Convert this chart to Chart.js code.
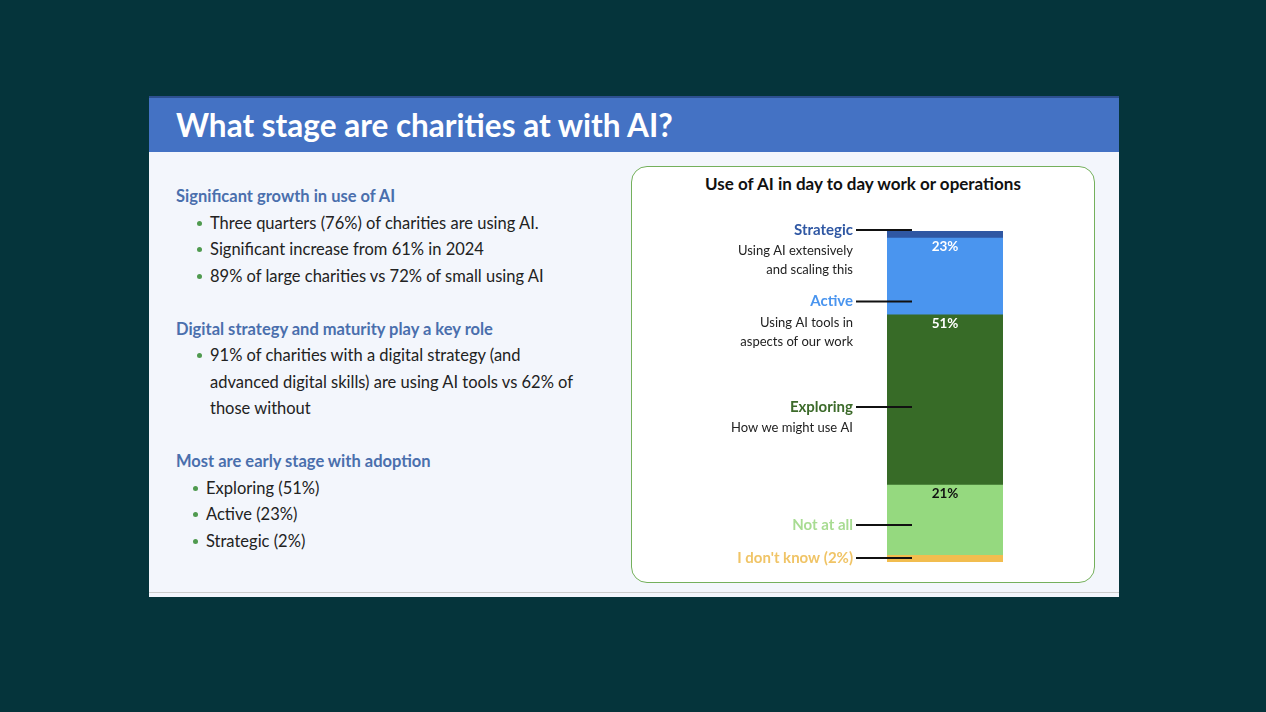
<!DOCTYPE html>
<html><head><meta charset="utf-8">
<script src="https://cdn.jsdelivr.net/npm/chart.js@4/dist/chart.umd.min.js"></script>
<style>
body{margin:0;width:1266px;height:712px;background:#05343b;font-family:Lato,"Noto Sans",sans-serif;position:relative;overflow:hidden}
#slide{position:absolute;left:149px;top:96px;width:970px;height:501px;background:#f3f6fc}
#hdr{position:absolute;left:0;top:0;width:970px;height:56px;background:#4472c4;border-top:2px solid #2d4f8f;box-sizing:border-box}
#hdr h1{margin:0;position:absolute;left:27px;top:8px;color:#fff;font-size:31.5px;font-weight:bold}
#left{position:absolute;left:27px;top:87px;color:#222;font-size:16.5px}
.h{color:#4a6fad;font-weight:bold;font-size:16.5px;margin:0;line-height:26.5px}
ul{margin:0;padding-left:34px;list-style:none}
li{line-height:26.5px;position:relative}
li:before{content:"";position:absolute;left:-13px;top:11px;width:5px;height:5px;border-radius:50%;background:#4f9a4f}
#box{position:absolute;left:631px;top:166px;width:464px;height:417px;background:#fff;border:1.5px solid #74b05c;border-radius:16px;box-sizing:border-box}
#ttl{position:absolute;left:631px;top:173px;width:464px;text-align:center;font-weight:bold;font-size:17px;color:#111}
canvas{position:absolute;left:631px;top:166px}
#foot{position:absolute;left:149px;top:592px;width:970px;height:1px;background:#ccc}
</style></head><body>
<div id="slide"><div id="hdr"><h1>What stage are charities at with AI?</h1></div>
<div id="left">
<p class="h">Significant growth in use of AI</p>
<ul><li>Three quarters (76%) of charities are using AI.</li><li>Significant increase from 61% in 2024</li><li>89% of large charities vs 72% of small using AI</li></ul>
<p class="h" style="margin-top:26.5px">Digital strategy and maturity play a key role</p>
<ul><li>91% of charities with a digital strategy (and<br>advanced digital skills) are using AI tools vs 62% of<br>those without</li></ul>
<p class="h" style="margin-top:26.5px">Most are early stage with adoption</p>
<ul style="padding-left:30px"><li>Exploring (51%)</li><li>Active (23%)</li><li>Strategic (2%)</li></ul>
</div></div>
<div id="foot"></div>
<div id="box"></div>
<div id="ttl">Use of AI in day to day work or operations</div>
<canvas id="c" width="464" height="417"></canvas>
<script>
const categories=["I don't know (2%)","Not at all","Exploring","Active","Strategic"];
const values=[2,21,51,23,2];
const valueLabels=["","21%","51%","23%",""];
const subLabels=[[],[],["How we might use AI"],["Using AI tools in","aspects of our work"],["Using AI extensively","and scaling this"]];
const labelAnchors=[1.2,11.1,46.4,78,99.4];
const colors=["#f2bd4f","#95d97f","#376b27","#4a95ef","#2f57a3"];
const nameColors=["#f0c466","#a8dc92","#3d6b2b","#4a95ef","#2f57a3"];
const valueColors=["#fff","#111","#fff","#fff","#fff"];

const annot={id:"annot",afterDatasetsDraw(ch){
 const ctx=ch.ctx,y=ch.scales.y,x0=ch.chartArea.left;
 let cum=0;
 ctx.save();
 values.forEach((v,i)=>{
  const top=y.getPixelForValue(cum+v);cum+=v;
  if(valueLabels[i]){ctx.fillStyle=valueColors[i];ctx.font="bold 13.5px Lato";ctx.textAlign="center";ctx.textBaseline="top";
   ctx.fillText(valueLabels[i],(ch.chartArea.left+ch.chartArea.right)/2,top+2);}
  const ly=y.getPixelForValue(labelAnchors[i]);
  ctx.strokeStyle="#111";ctx.lineWidth=2;ctx.beginPath();ctx.moveTo(x0-31,ly);ctx.lineTo(x0+25,ly);ctx.stroke();
  ctx.textAlign="right";ctx.textBaseline="middle";ctx.fillStyle=nameColors[i];ctx.font="bold 15px Lato";
  ctx.fillText(categories[i],x0-34,ly);
  ctx.fillStyle="#222";ctx.font="13px Lato";
  subLabels[i].forEach((s,k)=>ctx.fillText(s,x0-34,ly+21+k*19));
 });
 ctx.restore();}};

new Chart(document.getElementById("c"),{type:"bar",
 data:{labels:["Use of AI"],datasets:values.map((v,i)=>({label:categories[i],data:[v],backgroundColor:colors[i],borderWidth:0,categoryPercentage:1,barPercentage:1}))},
 options:{responsive:false,animation:false,devicePixelRatio:1,
  layout:{padding:{left:256,right:92,top:62,bottom:21}},
  plugins:{legend:{display:false},tooltip:{enabled:false},title:{display:false}},
  scales:{x:{stacked:true,display:false},y:{stacked:true,display:false,min:0,max:100}}},
 plugins:[annot]});
</script></body></html>
